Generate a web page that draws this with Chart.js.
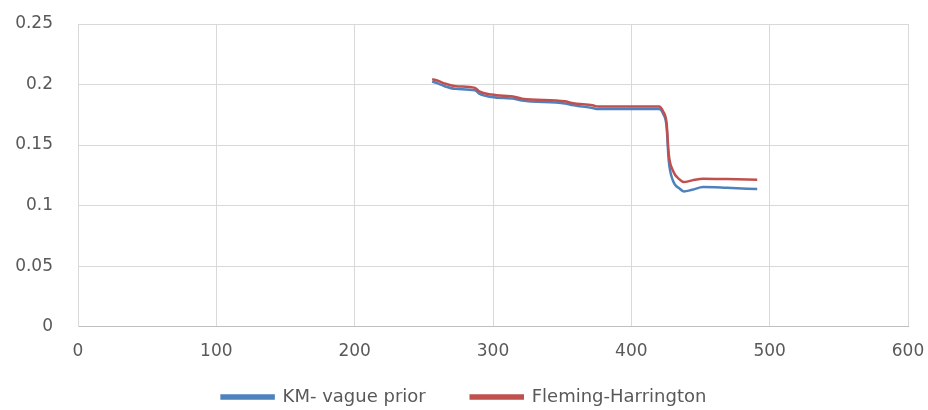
<!DOCTYPE html>
<html>
<head>
<meta charset="utf-8">
<script src="https://cdn.jsdelivr.net/npm/chart.js@4.4.1/dist/chart.umd.min.js"></script>
<style>
  html, body { margin: 0; padding: 0; background: #fff; }
  #wrap { width: 928px; height: 410px; }
</style>
</head>
<body>
<div id="wrap"><canvas id="chart"></canvas></div>
<script>
// time values (shared by both curves)
const times = [256, 261, 265, 273, 287, 290, 299, 316, 321, 352, 357, 372, 376, 420, 423, 425.5, 427, 430, 435, 438, 444, 452, 469, 491];

const kmValues = [0.2025, 0.2006, 0.1986, 0.1964, 0.1953, 0.1925, 0.1897, 0.1881, 0.1867, 0.1844, 0.1831, 0.1806, 0.1797, 0.1797, 0.1758, 0.165, 0.1375, 0.1208, 0.1139, 0.1117, 0.1131, 0.1153, 0.1147, 0.1136];
const fhValues = [0.2045, 0.2028, 0.2008, 0.1986, 0.1972, 0.1944, 0.1917, 0.1897, 0.1883, 0.1861, 0.1847, 0.1828, 0.1819, 0.1819, 0.1778, 0.168, 0.143, 0.129, 0.1214, 0.1194, 0.1208, 0.1222, 0.1219, 0.1214];

const seriesNames = ["KM- vague prior", "Fleming-Harrington"];
const seriesColors = ["#4f81bd", "#c0504d"];

function toPoints(xs, ys) {
    return xs.map((x, i) => ({ x: x, y: ys[i] }));
}

const font = { family: "DejaVu Sans", size: 17 };
const legendFont = { family: "DejaVu Sans", size: 18 };

// nudge the legend a little lower, like the original
const legendShift = {
    id: "legendShift",
    afterLayout: function (chart) {
        if (chart.legend) {
            chart.legend.top += 6;
            chart.legend.bottom += 6;
        }
    }
};

new Chart("chart", {
    type: "scatter",
    plugins: [legendShift],
    data: {
        datasets: [{
            label: seriesNames[0],
            data: toPoints(times, kmValues),
            borderColor: seriesColors[0],
            backgroundColor: seriesColors[0],
            order: 1
        }, {
            label: seriesNames[1],
            data: toPoints(times, fhValues),
            borderColor: seriesColors[1],
            backgroundColor: seriesColors[1],
            order: 0
        }]
    },
    options: {
        responsive: true,
        maintainAspectRatio: false,
        animation: false,
        showLine: true,
        elements: {
            point: { radius: 0, hoverRadius: 0 },
            line: { borderWidth: 2.5, cubicInterpolationMode: "monotone" }
        },
        layout: { padding: 0 },
        scales: {
            x: {
                type: "linear",
                min: 0,
                max: 600,
                afterFit: function (scale) {
                    scale.paddingRight = 20;
                    scale.paddingLeft = 0;
                },
                ticks: { stepSize: 100, color: "#595959", font: font, padding: 15 },
                grid: { color: "#d9d9d9", drawTicks: false },
                border: { color: "#bfbfbf" }
            },
            y: {
                min: 0,
                max: 0.25,
                afterFit: function (scale) {
                    scale.width = 78;
                    scale.paddingTop = 24;
                    scale.paddingBottom = 0;
                },
                ticks: {
                    stepSize: 0.05,
                    color: "#595959",
                    font: font,
                    padding: 25,
                    callback: function (v) { return String(+v.toFixed(2)); }
                },
                grid: { color: "#d9d9d9", drawTicks: false },
                border: { color: "#d9d9d9" }
            }
        },
        plugins: {
            tooltip: { enabled: false },
            legend: {
                position: "bottom",
                labels: {
                    boxWidth: 52,
                    boxHeight: 3,
                    padding: 5,
                    color: "#595959",
                    font: legendFont,
                    sort: function (a, b) { return a.datasetIndex - b.datasetIndex; },
                    generateLabels: function (chart) {
                        const items = Chart.defaults.plugins.legend.labels.generateLabels(chart);
                        items.forEach(function (it) {
                            if (it.datasetIndex === 0) it.text = it.text + "       ";
                        });
                        return items;
                    }
                }
            }
        }
    }
});
</script>
</body>
</html>
